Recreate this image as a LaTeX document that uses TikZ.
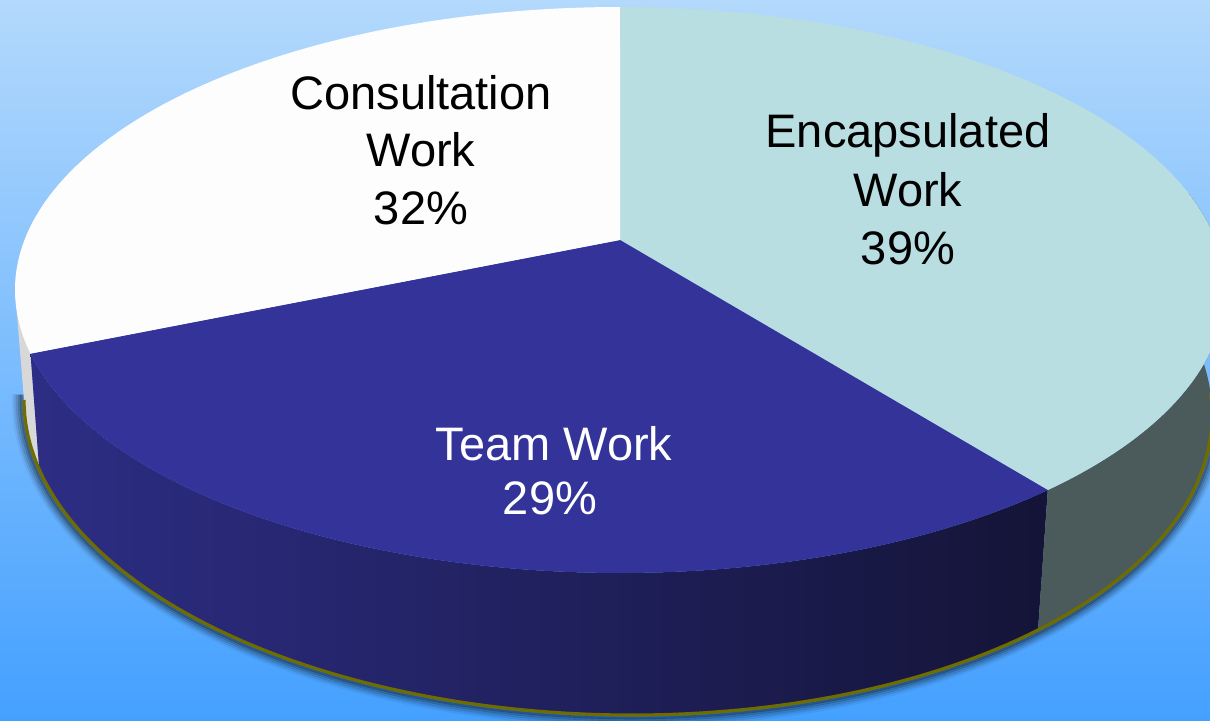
\documentclass[tikz,border=0pt]{standalone}
\usepackage{fontspec}
\setmainfont{Liberation Sans}
\definecolor{bgtop}{HTML}{B3D9FC}
\definecolor{bgbot}{HTML}{44A0FF}
\definecolor{encaptop}{HTML}{B8DEE2}
\definecolor{encapside}{HTML}{4B5A5A}
\definecolor{teamtop}{HTML}{333399}
\definecolor{teamsideL}{HTML}{2D2D85}
\definecolor{teamsideR}{HTML}{141438}
\definecolor{constop}{HTML}{FDFDFD}
\definecolor{consside}{HTML}{D8D8D8}
\definecolor{olivetrim}{HTML}{6F6C00}
\tikzset{
  lbl/.style={anchor=base, inner sep=0pt, font=\fontsize{23.5}{28.5}\selectfont},
  darklbl/.style={lbl, text=black},
  lightlbl/.style={lbl, text=white},
}
\begin{document}
\begin{tikzpicture}[x=0.5pt,y=-0.5pt]
\useasboundingbox (0,0) rectangle (1210,721);
\shade[top color=bgtop, bottom color=bgbot] (0,0) rectangle (1210,721);
\begin{scope}
\clip (0,0) rectangle (1210,721);
% soft shadow round the base
\foreach \d/\o in {10/0.05,8/0.09,6/0.14,4/0.22,2/0.30} {
  \draw[line width=2.2pt, black, opacity=\o]
    plot[domain=179:364, samples=140] ({618+(594+\d)*cos(\x)},{407.3-(307.7+\d)*sin(\x)+7.3*cos(\x)});
}
% side faces
\fill[consside] plot[domain=150:180, samples=30] ({620+605*cos(\x)},{290-283*sin(\x)})
  -- plot[domain=180:193, samples=20] ({618+594*cos(\x)},{407.3-307.7*sin(\x)+7.3*cos(\x)})
  -- ({620+605*cos(193)},{290-283*sin(193)}) -- cycle;
\shade[left color=teamsideL, right color=teamsideR]
  plot[domain=193:315, samples=100] ({620+605*cos(\x)},{290-283*sin(\x)})
  -- plot[domain=315:193, samples=100] ({618+594*cos(\x)},{407.3-307.7*sin(\x)+7.3*cos(\x)}) -- cycle;
\fill[encapside] plot[domain=315:380, samples=60] ({620+605*cos(\x)},{290-283*sin(\x)})
  -- plot[domain=380:315, samples=60] ({618+594*cos(\x)},{407.3-307.7*sin(\x)+7.3*cos(\x)}) -- cycle;
% rim of the base
\draw[olivetrim, line width=1.6pt] plot[domain=180:364, samples=140] ({618+594*cos(\x)},{407.3-307.7*sin(\x)+7.3*cos(\x)});
% top faces
\coordinate (apex) at (620,240);
\fill[encaptop] (apex) -- plot[domain=90:-45, samples=100] ({620+605*cos(\x)},{290-283*sin(\x)}) -- cycle;
\fill[teamtop] (apex) -- plot[domain=-45:-167, samples=100] ({620+605*cos(\x)},{290-283*sin(\x)}) -- cycle;
\fill[constop] (apex) -- plot[domain=193:90, samples=100] ({620+605*cos(\x)},{290-283*sin(\x)}) -- cycle;
\end{scope}
% labels
\node[darklbl] (c1) at (421,110) {Consultation};
\node[darklbl] (c2) at (421,167) {Work};
\node[darklbl] (c3) at (421,225) {32\%};
\node[darklbl] (e1) at (908,148) {Encapsulated};
\node[darklbl] (e2) at (908,207) {Work};
\node[darklbl] (e3) at (908,265) {39\%};
\node[lightlbl] (t1) at (554,460) {Team Work};
\node[lightlbl] (t2) at (550,515) {29\%};
\end{tikzpicture}
\end{document}
